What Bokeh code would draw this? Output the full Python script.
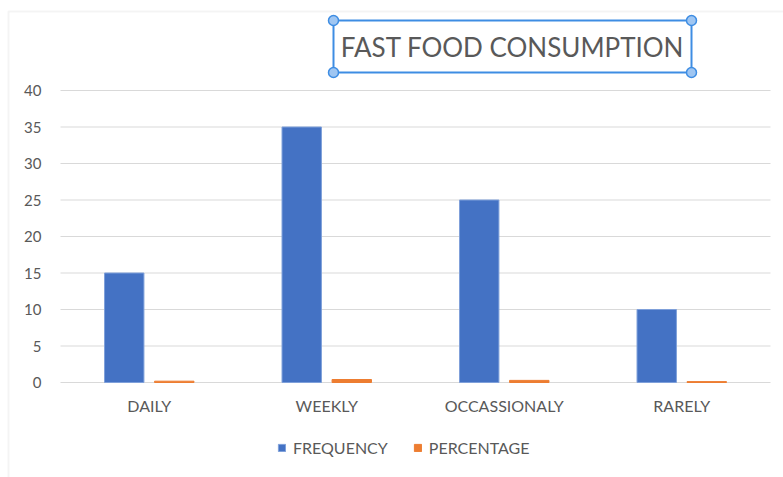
from bokeh.plotting import figure
from bokeh.models import (Range1d, Legend, LegendItem, BoxAnnotation, Label,
                          ColumnDataSource)
from bokeh.core.properties import value
from bokeh.transform import dodge
from bokeh.embed import file_html
from bokeh.resources import INLINE

# Survey answers: how often fast food is eaten
categories = ["DAILY", "WEEKLY", "OCCASSIONALY", "RARELY"]
frequency = [15, 35, 25, 10]
percentage = [0.18, 0.41, 0.29, 0.12]
y_ticks = [0, 5, 10, 15, 20, 25, 30, 35, 40]

W, H = 783, 477
FL, FR, FT, FB = 60, 770, 90, 382      # plot-area edges in canvas pixels
CW = (FR - FL) / len(categories)       # pixels per category slot
PXU = (FB - FT) / max(y_ticks)         # pixels per value unit

TEXT = "#595959"
FONT = "Lato"
SEL = "#3E8DE3"

# category slots sit at 0.5, 1.5, ... on a numeric x scale
slot = [i + 0.5 for i in range(len(categories))]
src = ColumnDataSource(dict(x=slot, cat=categories, freq=frequency, pct=percentage))

# the canvas is one big frame so the chart chrome can be drawn anywhere on it
p = figure(width=W, height=H,
           x_range=Range1d(-FL / CW, len(categories) + (W - FR) / CW),
           y_range=Range1d(-(H - FB) / PXU, FB / PXU),
           x_axis_location=None, y_axis_location=None,
           output_backend="svg", toolbar_location=None, min_border=0)
p.outline_line_color = None
p.background_fill_color = "white"
p.border_fill_color = "white"
p.grid.visible = False

# horizontal gridlines across the category area
p.segment(x0=0, x1=len(categories), y0=y_ticks, y1=y_ticks,
          line_color="#D9D9D9", line_width=1)

blue = p.vbar(x=dodge("x", -0.141), top="freq", width=0.222, source=src,
              fill_color="#4472C4", line_color="#7FA0DA", line_width=1)
orange = p.vbar(x=dodge("x", 0.141), top="pct", width=0.222, source=src,
                fill_color="#ED7D31", line_color="#ED7D31", line_width=1)

# value axis labels
p.text(x=0, y=y_ticks, text=[str(t) for t in y_ticks], x_offset=-19,
       text_align="right", text_baseline="middle", text_font=value(FONT),
       text_font_size="15px", text_color=TEXT)
# category axis labels
p.text(x="x", y=0, text="cat", source=src, y_offset=23,
       text_align="center", text_baseline="middle", text_font=value(FONT),
       text_font_size="16px", text_color=TEXT)

# light frame around the chart area
p.add_layout(BoxAnnotation(left=8, right=W + 20, top=H - 11, bottom=-20,
                           left_units="screen", right_units="screen",
                           top_units="screen", bottom_units="screen",
                           fill_alpha=0, line_color="#D9D9D9", line_width=2))

# selected title box with its handles
bx0, bx1, by0, by1 = 333, 691, 20, 72
p.add_layout(BoxAnnotation(left=bx0, right=bx1, top=H - by0, bottom=H - by1,
                           left_units="screen", right_units="screen",
                           top_units="screen", bottom_units="screen",
                           fill_alpha=0, line_color=SEL, line_alpha=1,
                           line_width=2))
p.add_layout(Label(x=(bx0 + bx1) / 2, y=H - (by0 + by1) / 2,
                   x_units="screen", y_units="screen",
                   text="FAST FOOD CONSUMPTION", text_align="center",
                   text_baseline="middle", text_font=FONT, text_font_size="26px",
                   text_color=TEXT))
for hx in (bx0, bx1):
    for hy in (by0, by1):
        p.add_layout(BoxAnnotation(left=hx - 5, right=hx + 5,
                                   top=H - hy + 5, bottom=H - hy - 5,
                                   left_units="screen", right_units="screen",
                                   top_units="screen", bottom_units="screen",
                                   border_radius=5,
                                   fill_color="#9FC6F2", fill_alpha=1,
                                   line_color=SEL, line_alpha=1, line_width=1.5))

legend = Legend(items=[LegendItem(label="FREQUENCY", renderers=[blue]),
                       LegendItem(label="PERCENTAGE", renderers=[orange])],
                orientation="horizontal", location=(277, H - 457),
                padding=0, margin=0, spacing=25, label_standoff=7,
                glyph_width=9, glyph_height=9,
                label_text_font=FONT, label_text_font_size="16px",
                label_text_color=TEXT, border_line_color=None,
                background_fill_alpha=0)
p.add_layout(legend, "center")

open("out.html", "w").write(file_html(p, INLINE))
